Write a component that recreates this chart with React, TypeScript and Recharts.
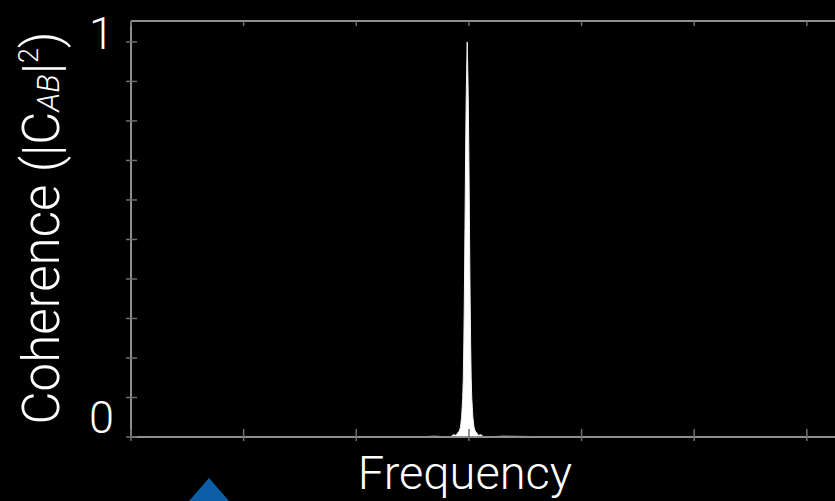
import React from 'react';
import { AreaChart, Area, XAxis, YAxis } from 'recharts';

// frequency (arbitrary units) and coherence, peak near 2.985
const frequency = [
  0, 1, 2, 2.5, 2.7, 2.835, 2.865, 2.885, 2.905, 2.915, 2.925, 2.935, 2.94, 2.945,
  2.95, 2.955, 2.96, 2.965, 2.97, 2.975, 2.98, 2.985, 2.99, 2.995, 3.0, 3.005,
  3.01, 3.015, 3.02, 3.025, 3.03, 3.035, 3.045, 3.055, 3.065, 3.085, 3.105, 3.135,
  3.3, 4, 5, 6.25,
];
const coherence = [
  0, 0, 0, 0, 0.002, 0, 0.006, 0.004, 0.012, 0.015, 0.025, 0.05, 0.075, 0.1,
  0.15, 0.24, 0.37, 0.53, 0.7, 0.84, 0.93, 1.0, 0.93, 0.84, 0.7, 0.53,
  0.37, 0.24, 0.15, 0.1, 0.075, 0.05, 0.025, 0.015, 0.012, 0.004, 0.006, 0,
  0.002, 0, 0, 0,
];

const xTicks = [0, 1, 2, 3, 4, 5, 6];
const yTicks = [0, 0.1, 0.2, 0.3, 0.4, 0.5, 0.6, 0.7, 0.8, 0.9, 1];
const yLabels = [0, 1];

const data = frequency.map((f, i) => ({ f, c: coherence[i] }));

const FONT = "Roboto, 'Open Sans', sans-serif";
const AXIS = '#8f8f8f';
const TICK = '#6f6f6f';

const BottomTick = ({ x, y }: any) => (
  <line x1={x} x2={x} y1={y - 8} y2={y + 4} stroke={TICK} strokeWidth={1.5} />
);

const TopTick = ({ x, y }: any) => (
  <line x1={x} x2={x} y1={y} y2={y + 5} stroke={TICK} strokeWidth={1.5} />
);

const LeftTick = ({ x, y, payload }: any) => {
  const v = payload.value;
  const showLabel = yLabels.includes(v);
  return (
    <g>
      <line x1={x - 5} x2={x + 6} y1={y} y2={y} stroke={TICK} strokeWidth={1.5} />
      {showLabel && (
        <text
          x={x - 17}
          y={v === 1 ? y + 7 : y - 4}
          textAnchor="end"
          fill="#fff"
          fontFamily={FONT}
          fontWeight={300}
          fontSize={45}
        >
          {v}
        </text>
      )}
    </g>
  );
};

const YLabel = () => (
  <text
    x={59}
    y={228}
    transform="rotate(-90, 59, 228)"
    textAnchor="middle"
    fill="#fff"
    fontFamily={FONT}
    fontWeight={300}
    fontSize={51}
  >
    Coherence (|C
    <tspan fontSize={31} fontStyle="italic">AB</tspan>
    |
    <tspan fontSize={27} dy={-21}>2</tspan>
    <tspan dy={21}>)</tspan>
  </text>
);

const XLabel = () => (
  <text x={465} y={489} textAnchor="middle" fill="#fff" fontFamily={FONT} fontWeight={300} fontSize={47}>
    Frequency
  </text>
);

export default function App() {
  return (
    <div style={{ position: 'absolute', left: 0, top: 0, width: 835, height: 501, background: '#000', overflow: 'hidden' }}>
      <AreaChart width={835} height={501} data={data} margin={{ top: 0, right: 0, bottom: 0, left: 0 }}>
        <XAxis
          xAxisId="bottom"
          dataKey="f"
          type="number"
          domain={[0, 6.25]}
          ticks={xTicks}
          interval={0}
          allowDataOverflow
          height={64}
          axisLine={{ stroke: AXIS, strokeWidth: 2 }}
          tickLine={false}
          tickSize={0}
          tickMargin={0}
          tick={(p: any) => <BottomTick {...p} />}
          label={() => <XLabel />}
        />
        <XAxis
          xAxisId="top"
          orientation="top"
          dataKey="f"
          type="number"
          domain={[0, 6.25]}
          ticks={xTicks}
          interval={0}
          allowDataOverflow
          height={21}
          axisLine={{ stroke: AXIS, strokeWidth: 2 }}
          tickLine={false}
          tickSize={0}
          tickMargin={0}
          tick={(p: any) => <TopTick {...p} />}
        />
        <YAxis
          type="number"
          domain={[0, 1.053]}
          ticks={yTicks}
          interval={0}
          allowDataOverflow
          width={131}
          axisLine={{ stroke: AXIS, strokeWidth: 2 }}
          tickLine={false}
          tickSize={0}
          tickMargin={0}
          tick={(p: any) => <LeftTick {...p} />}
          label={() => <YLabel />}
        />
        <Area
          xAxisId="bottom"
          dataKey="c"
          type="linear"
          stroke="#f2f2f2"
          strokeWidth={1}
          fill="#ffffff"
          fillOpacity={1}
          dot={false}
          activeDot={false}
          isAnimationActive={false}
        />
        <Area
          xAxisId="top"
          dataKey="c"
          type="linear"
          stroke="none"
          fill="none"
          dot={false}
          activeDot={false}
          isAnimationActive={false}
        />
      </AreaChart>
      <svg width={835} height={501} style={{ position: 'absolute', left: 0, top: 0, pointerEvents: 'none' }}>
        <polygon points="209,478 189,501 229,501" fill="#0b5fa6" />
      </svg>
    </div>
  );
}
